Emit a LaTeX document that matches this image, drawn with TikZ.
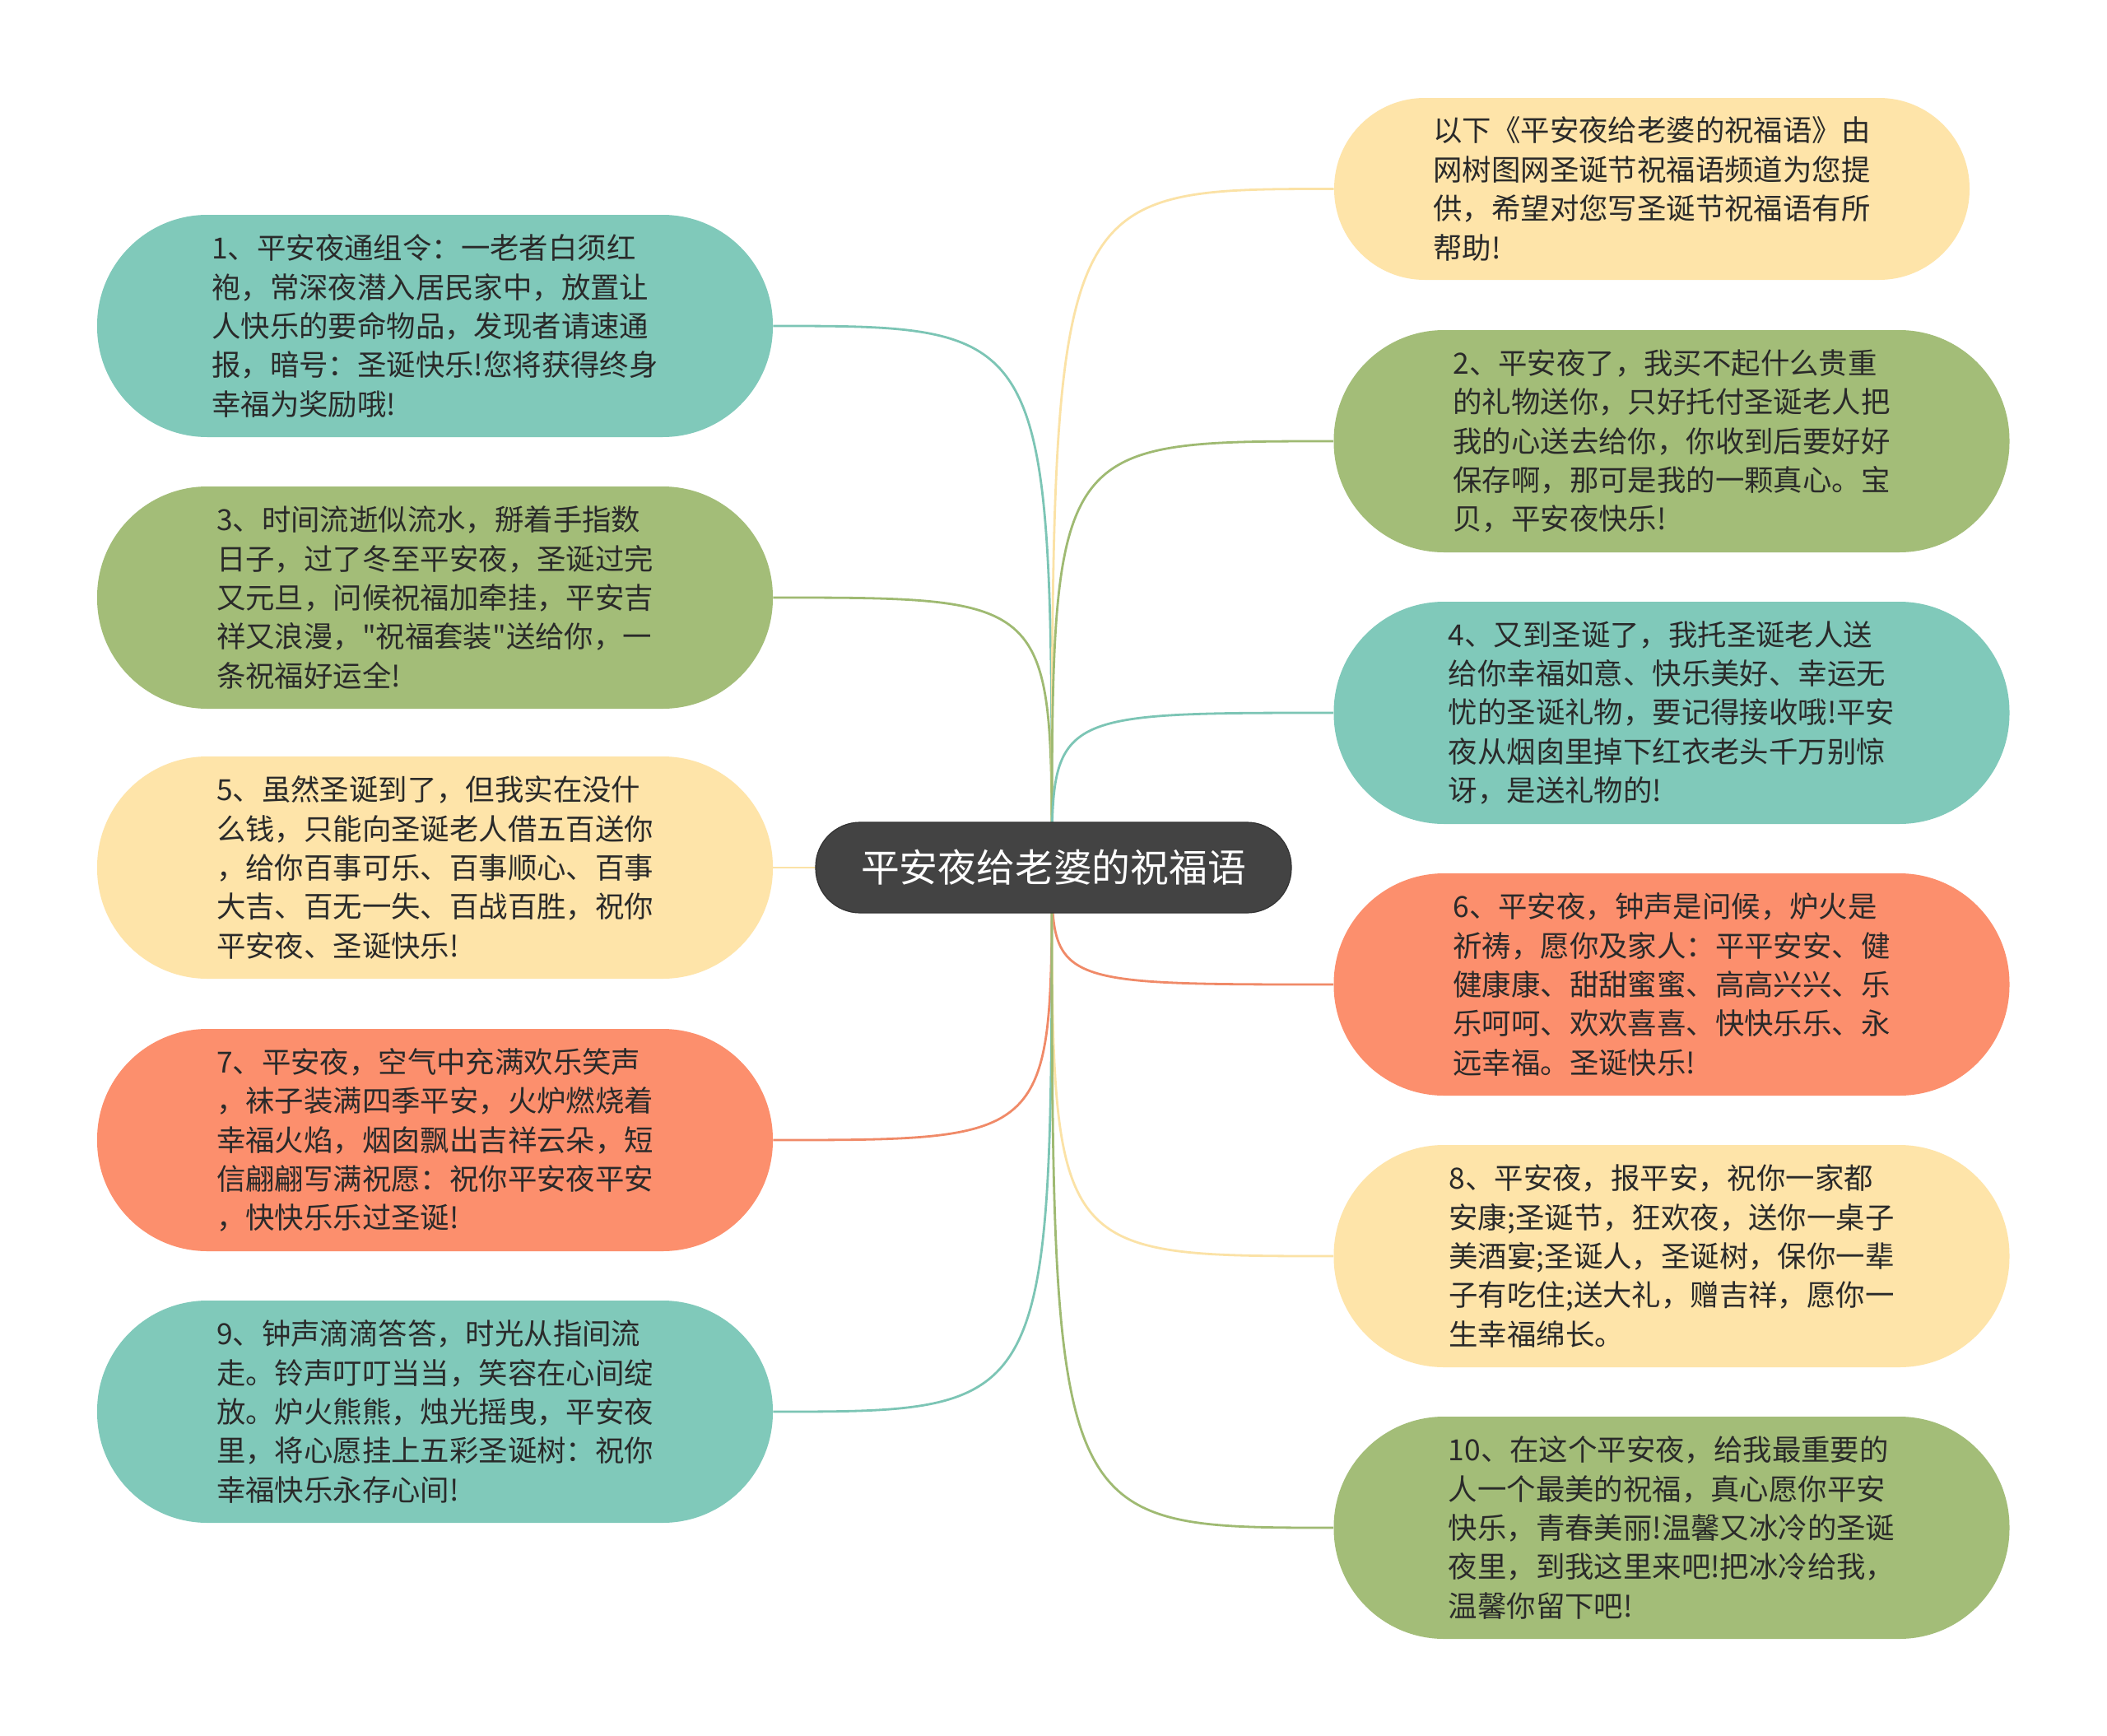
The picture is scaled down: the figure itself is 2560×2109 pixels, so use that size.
\documentclass[tikz,border=0pt]{standalone}
\usepackage{fontspec}
\setmainfont{Noto Sans CJK SC}[Ligatures=TeXOff]
\usetikzlibrary{backgrounds}
\definecolor{tealc}{HTML}{80C9BA}
\definecolor{greenc}{HTML}{A3BD78}
\definecolor{yellowc}{HTML}{FEE4A9}
\definecolor{orangec}{HTML}{FC8F6D}
\definecolor{tealL}{HTML}{7CC5B5}
\definecolor{greenL}{HTML}{9FBA72}
\definecolor{yellowL}{HTML}{FBE2A6}
\definecolor{orangeL}{HTML}{F08A68}
\definecolor{txt}{HTML}{2A2A2A}
\definecolor{hubc}{HTML}{434343}
\tikzset{
  leaf/.style={rectangle, rounded corners=67pt, minimum width=410.5pt, minimum height=135pt,
    align=left, text=txt, inner sep=0pt, font=\fontsize{17.7pt}{23.7pt}\selectfont},
  intro/.style={leaf, rounded corners=55pt, minimum width=386pt, minimum height=110.5pt},
  hubbox/.style={rectangle, rounded corners=27pt, minimum width=289pt, minimum height=55pt,
    fill=hubc, draw=black!80, line width=0.6pt, text=white, font=\fontsize{23.4pt}{28pt}\selectfont},
  link/.style={line width=1.4pt}
}
\begin{document}
\begin{tikzpicture}[x=0.5pt,y=-0.5pt]
\useasboundingbox (0,0) rectangle (2560,2109);
% left column
\node[leaf, fill=tealc] (n1) at (528.5,396) {1、平安夜通组令：一老者白须红\\袍，常深夜潜入居民家中，放置让\\人快乐的要命物品，发现者请速通\\报，暗号：圣诞快乐!您将获得终身\\幸福为奖励哦!};
\node[leaf, fill=greenc] (n3) at (528.5,726) {3、时间流逝似流水，掰着手指数\\日子，过了冬至平安夜，圣诞过完\\又元旦，问候祝福加牵挂，平安吉\\祥又浪漫，"祝福套装"送给你，一\\条祝福好运全!};
\node[leaf, fill=yellowc] (n5) at (528.5,1054) {5、虽然圣诞到了，但我实在没什\\么钱，只能向圣诞老人借五百送你\\，给你百事可乐、百事顺心、百事\\大吉、百无一失、百战百胜，祝你\\平安夜、圣诞快乐!};
\node[leaf, fill=orangec] (n7) at (528.5,1385) {7、平安夜，空气中充满欢乐笑声\\，袜子装满四季平安，火炉燃烧着\\幸福火焰，烟囱飘出吉祥云朵，短\\信翩翩写满祝愿：祝你平安夜平安\\，快快乐乐过圣诞!};
\node[leaf, fill=tealc] (n9) at (528.5,1715) {9、钟声滴滴答答，时光从指间流\\走。铃声叮叮当当，笑容在心间绽\\放。炉火熊熊，烛光摇曳，平安夜\\里，将心愿挂上五彩圣诞树：祝你\\幸福快乐永存心间!};
% right column
\node[intro, fill=yellowc] (n0) at (2007,229.5) {以下《平安夜给老婆的祝福语》由\\网树图网圣诞节祝福语频道为您提\\供，希望对您写圣诞节祝福语有所\\帮助!};
\node[leaf, fill=greenc] (n2) at (2031,536) {2、平安夜了，我买不起什么贵重\\的礼物送你，只好托付圣诞老人把\\我的心送去给你，你收到后要好好\\保存啊，那可是我的一颗真心。宝\\贝，平安夜快乐!};
\node[leaf, fill=tealc] (n4) at (2031,866) {4、又到圣诞了，我托圣诞老人送\\给你幸福如意、快乐美好、幸运无\\忧的圣诞礼物，要记得接收哦!平安\\夜从烟囱里掉下红衣老头千万别惊\\讶，是送礼物的!};
\node[leaf, fill=orangec] (n6) at (2031,1196) {6、平安夜，钟声是问候，炉火是\\祈祷，愿你及家人：平平安安、健\\健康康、甜甜蜜蜜、高高兴兴、乐\\乐呵呵、欢欢喜喜、快快乐乐、永\\远幸福。圣诞快乐!};
\node[leaf, fill=yellowc] (n8) at (2031,1526) {8、平安夜，报平安，祝你一家都\\安康;圣诞节，狂欢夜，送你一桌子\\美酒宴;圣诞人，圣诞树，保你一辈\\子有吃住;送大礼，赠吉祥，愿你一\\生幸福绵长。};
\node[leaf, fill=greenc] (n10) at (2031,1856) {10、在这个平安夜，给我最重要的\\人一个最美的祝福，真心愿你平安\\快乐，青春美丽!温馨又冰冷的圣诞\\夜里，到我这里来吧!把冰冷给我，\\温馨你留下吧!};
% hub
\coordinate (hub) at (1278,1054);
\node[hubbox] (c) at (1280,1054) {平安夜给老婆的祝福语};
\begin{scope}[on background layer]
\fill[white] (0,0) rectangle (2560,2109);
\draw[link, tealL] (hub) .. controls (hub |- n1.east) .. (n1.east);
\draw[link, greenL] (hub) .. controls (hub |- n3.east) .. (n3.east);
\draw[link, yellowL] (hub) .. controls (hub |- n5.east) .. (n5.east);
\draw[link, orangeL] (hub) .. controls (hub |- n7.east) .. (n7.east);
\draw[link, tealL] (hub) .. controls (hub |- n9.east) .. (n9.east);
\draw[link, yellowL] (hub) .. controls (hub |- n0.west) .. (n0.west);
\draw[link, greenL] (hub) .. controls (hub |- n2.west) .. (n2.west);
\draw[link, tealL] (hub) .. controls (hub |- n4.west) .. (n4.west);
\draw[link, orangeL] (hub) .. controls (hub |- n6.west) .. (n6.west);
\draw[link, yellowL] (hub) .. controls (hub |- n8.west) .. (n8.west);
\draw[link, greenL] (hub) .. controls (hub |- n10.west) .. (n10.west);
\end{scope}
\end{tikzpicture}
\end{document}
